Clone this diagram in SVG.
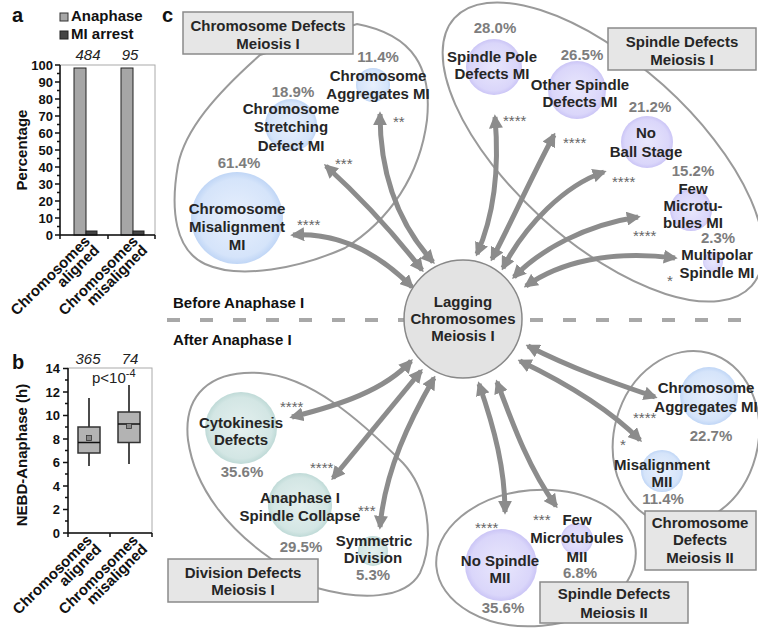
<svg xmlns="http://www.w3.org/2000/svg" width="758" height="631" viewBox="0 0 758 631">
<defs>
<style>
text{font-family:"Liberation Sans",Arial,sans-serif}
.L{font-size:20px;font-weight:bold;fill:#111}
.t{font-size:15px;font-weight:bold;fill:#262626;text-anchor:middle}
.p{font-size:15px;font-weight:bold;fill:#7d7d7d;text-anchor:middle}
.s{font-size:15px;fill:#666}
.k{font-size:13px;font-weight:bold;fill:#111;text-anchor:end}
.ax{font-size:15px;font-weight:bold;fill:#111}
.n{font-size:15px;font-style:italic;fill:#222;text-anchor:middle}
.box{fill:#e6e6e6;stroke:#8a8a8a;stroke-width:1.5}
.ell{fill:none;stroke:#9a9a9a;stroke-width:2}
.arr{fill:none;stroke:#8c8c8c;stroke-width:5;marker-start:url(#ah);marker-end:url(#ah)}
.fr{fill:none;stroke:#aaa;stroke-width:1}
.bl{stroke:#111;stroke-width:1.5;fill:none}
</style>
<marker id="ah" viewBox="0 0 10 10" refX="8" refY="5" markerWidth="2.8" markerHeight="2.8" orient="auto-start-reverse"><path d="M0,0 L10,5 L0,10 z" fill="#8c8c8c"/></marker>
<radialGradient id="gb"><stop offset="0" stop-color="#e8f0fd"/><stop offset="0.85" stop-color="#d5e4fa"/><stop offset="1" stop-color="#c0d6f6"/></radialGradient>
<radialGradient id="gp"><stop offset="0" stop-color="#e9e7fc"/><stop offset="0.85" stop-color="#dad6fa"/><stop offset="1" stop-color="#cbc5f6"/></radialGradient>
<radialGradient id="gg"><stop offset="0" stop-color="#e4f0ef"/><stop offset="0.85" stop-color="#d3e6e4"/><stop offset="1" stop-color="#bfdad7"/></radialGradient>
</defs>
<rect width="758" height="631" fill="#fff"/>

<!-- Panel a -->
<g id="panel-a">
<text class="L" x="12" y="22">a</text>
<rect x="60" y="13" width="8" height="8" fill="#a6a6a6" stroke="#333" stroke-width="1"/>
<text class="ax" x="71" y="21">Anaphase</text>
<rect x="60" y="31" width="8" height="8" fill="#444" stroke="#222" stroke-width="1"/>
<text class="ax" x="71" y="39">MI arrest</text>
<text class="n" x="88" y="60">484</text>
<text class="n" x="130" y="60">95</text>
<rect class="fr" x="60" y="65" width="95" height="170"/>
<rect x="74" y="68" width="12" height="167" fill="#a6a6a6" stroke="#222" stroke-width="1"/>
<rect x="86" y="231" width="11" height="4" fill="#444" stroke="#222" stroke-width="1"/>
<rect x="121" y="68" width="12" height="167" fill="#a6a6a6" stroke="#222" stroke-width="1"/>
<rect x="133" y="231" width="11" height="4" fill="#444" stroke="#222" stroke-width="1"/>
<path class="bl" d="M60,65 V235 H155 M60,235 v4 M108,235 v4 M155,235 v4"/>
<path class="bl" stroke-width="1" d="M55,65h5M55,82h5M55,99h5M55,116h5M55,133h5M55,150h5M55,167h5M55,184h5M55,201h5M55,218h5M55,235h5M57,73.5h3M57,90.5h3M57,107.5h3M57,124.5h3M57,141.5h3M57,158.5h3M57,175.5h3M57,192.5h3M57,209.5h3M57,226.5h3"/>
<text class="k" x="53" y="70">100</text>
<text class="k" x="53" y="87">90</text>
<text class="k" x="53" y="104">80</text>
<text class="k" x="53" y="121">70</text>
<text class="k" x="53" y="138">60</text>
<text class="k" x="53" y="155">50</text>
<text class="k" x="53" y="172">40</text>
<text class="k" x="53" y="189">30</text>
<text class="k" x="53" y="206">20</text>
<text class="k" x="53" y="223">10</text>
<text class="k" x="53" y="240">0</text>
<text class="ax" font-size="14" text-anchor="middle" transform="translate(27,150) rotate(-90)">Percentage</text>
<text class="ax" text-anchor="end" transform="translate(91,242) rotate(-45)"><tspan x="0" y="0">Chromosomes</tspan><tspan x="0" y="13">aligned</tspan></text>
<text class="ax" text-anchor="end" transform="translate(139,242) rotate(-45)"><tspan x="0" y="0">Chromosomes</tspan><tspan x="0" y="13">misaligned</tspan></text>
</g>

<!-- Panel b -->
<g id="panel-b">
<text class="L" x="12" y="369">b</text>
<text class="n" x="88" y="364">365</text>
<text class="n" x="130" y="364">74</text>
<rect class="fr" x="68" y="368" width="84" height="165"/>
<path class="bl" d="M68,368 V533 H152 M68,533 v4 M110,533 v4 M152,533 v4"/>
<path class="bl" stroke-width="1" d="M63,368.5h5M63,392h5M63,415.5h5M63,439h5M63,462.5h5M63,486h5M63,509.5h5M63,533h5M65,380h3M65,403.5h3M65,427h3M65,450.5h3M65,474h3M65,497.5h3M65,521h3"/>
<text class="k" x="60" y="373">14</text>
<text class="k" x="60" y="397">12</text>
<text class="k" x="60" y="420">10</text>
<text class="k" x="60" y="444">8</text>
<text class="k" x="60" y="467">6</text>
<text class="k" x="60" y="491">4</text>
<text class="k" x="60" y="514">2</text>
<text class="k" x="60" y="538">0</text>
<text x="92" y="383" font-size="15" fill="#222">p&lt;10<tspan font-size="11" dy="-6">-4</tspan></text>
<path class="bl" stroke-width="2" d="M89,398 V427 M89,453 V466 M129,385 V412 M129,442 V464"/>
<rect x="78" y="427" width="22" height="26" fill="#b3b3b3" stroke="#333" stroke-width="1.5"/>
<path class="bl" stroke-width="2" d="M78,442.5 H100"/>
<rect x="86.5" y="435.5" width="5" height="5" fill="#888" stroke="#333" stroke-width="0.8"/>
<rect x="118" y="412" width="22" height="30.5" fill="#b3b3b3" stroke="#333" stroke-width="1.5"/>
<path class="bl" stroke-width="2" d="M118,424 H140"/>
<rect x="126.5" y="423.5" width="5" height="5" fill="#888" stroke="#333" stroke-width="0.8"/>
<text class="ax" font-size="14" text-anchor="middle" transform="translate(27,455) rotate(-90)">NEBD-Anaphase (h)</text>
<text class="ax" text-anchor="end" transform="translate(93,541) rotate(-45)"><tspan x="0" y="0">Chromosomes</tspan><tspan x="0" y="13">aligned</tspan></text>
<text class="ax" text-anchor="end" transform="translate(139,541) rotate(-45)"><tspan x="0" y="0">Chromosomes</tspan><tspan x="0" y="13">misaligned</tspan></text>
</g>

<!-- Panel c -->
<text class="L" x="162" y="22">c</text>
<path id="divider" d="M167,320 H758" stroke="#a8a8a8" stroke-width="4" stroke-dasharray="13 20"/>
<text class="ax" x="173" y="308">Before Anaphase I</text>
<text class="ax" x="173" y="345">After Anaphase I</text>

<!-- group outlines -->
<g id="groups">
<path class="ell" d="M260,55 C215,95 185,130 178,165 C170,210 175,250 205,264 C240,280 300,268 345,248 C390,220 420,175 427,120 C432,70 415,35 357,24 Z"/>
<ellipse class="ell" cx="603" cy="152" rx="200" ry="90" transform="rotate(42 603 152)"/>
<path class="ell" d="M270,558 C230,530 195,490 188,440 C183,395 210,370 260,373 C310,376 360,420 403,463 C428,490 435,540 420,573 C405,600 360,600 317,588 Z"/>
<ellipse class="ell" cx="686" cy="438" rx="72" ry="88" transform="rotate(15 686 438)"/>
<ellipse class="ell" cx="536" cy="558" rx="100" ry="68" transform="rotate(-5 536 558)"/>
</g>

<!-- connectors -->
<g id="connectors">
<path class="arr" d="M380,114 C380,170 395,220 433,262"/>
<path class="arr" d="M326,166 C360,197 395,235 422,270"/>
<path class="arr" d="M293,235 C340,232 380,255 412,287"/>
<path class="arr" d="M495,117 C500,175 492,220 477,254"/>
<path class="arr" d="M554,135 C530,180 510,225 492,259"/>
<path class="arr" d="M604,172 C565,185 525,225 503,268"/>
<path class="arr" d="M638,217 C585,225 540,250 514,277"/>
<path class="arr" d="M675,258 C610,250 560,262 526,286"/>
<path class="arr" d="M292,417 C340,405 385,390 411,361"/>
<path class="arr" d="M333,478 L421,371"/>
<path class="arr" d="M380,527 C385,470 410,420 434,378"/>
<path class="arr" d="M528,346 C575,370 620,385 655,397"/>
<path class="arr" d="M520,361 C570,385 610,410 640,440"/>
<path class="arr" d="M479,384 C495,430 505,470 505,512"/>
<path class="arr" d="M497,382 C515,430 530,470 556,506"/>
</g>

<!-- central node -->
<g id="lagging">
<circle cx="463" cy="319" r="59" fill="#e3e3e3" stroke="#888" stroke-width="1.5"/>
<text class="t" x="463" y="307">Lagging</text>
<text class="t" x="463" y="324">Chromosomes</text>
<text class="t" x="463" y="341">Meiosis I</text>
</g>

<!-- Chromosome defects MI -->
<g id="box-chrom-mi"><rect class="box" x="183" y="12" width="170" height="42"/>
<text class="t" x="268" y="31">Chromosome Defects</text><text class="t" x="268" y="49">Meiosis I</text></g>
<g id="chrom-aggregates-mi"><circle cx="373" cy="85" r="17" fill="url(#gb)"/>
<text class="p" x="378" y="62">11.4%</text><text class="t" x="378" y="81">Chromosome</text><text class="t" x="378" y="99">Aggregates MI</text>
<text class="s" x="393" y="127">**</text></g>
<g id="chrom-stretching"><circle cx="291" cy="125" r="26" fill="url(#gb)"/>
<text class="p" x="293" y="97">18.9%</text><text class="t" x="291" y="114">Chromosome</text><text class="t" x="291" y="132">Stretching</text><text class="t" x="291" y="151">Defect MI</text>
<text class="s" x="335" y="169">***</text></g>
<g id="chrom-misalignment-mi"><circle cx="237" cy="218" r="46" fill="url(#gb)"/>
<text class="p" x="239" y="168">61.4%</text><text class="t" x="237" y="214">Chromosome</text><text class="t" x="237" y="232">Misalignment</text><text class="t" x="237" y="250">MI</text>
<text class="s" x="297" y="230">****</text></g>

<!-- Spindle defects MI -->
<g id="box-spindle-mi"><rect class="box" x="608" y="28" width="148" height="42"/>
<text class="t" x="682" y="47">Spindle Defects</text><text class="t" x="682" y="65">Meiosis I</text></g>
<g id="spindle-pole"><circle cx="494" cy="67" r="28" fill="url(#gp)"/>
<text class="p" x="495" y="33">28.0%</text><text class="t" x="492" y="62">Spindle Pole</text><text class="t" x="492" y="79">Defects MI</text>
<text class="s" x="503" y="126">****</text></g>
<g id="other-spindle"><circle cx="577" cy="90" r="29" fill="url(#gp)"/>
<text class="p" x="582" y="60">26.5%</text><text class="t" x="580" y="90">Other Spindle</text><text class="t" x="580" y="107">Defects MI</text>
<text class="s" x="563" y="148">****</text></g>
<g id="no-ball"><circle cx="647" cy="142" r="26" fill="url(#gp)"/>
<text class="p" x="650" y="112">21.2%</text><text class="t" x="646" y="138">No</text><text class="t" x="646" y="157">Ball Stage</text>
<text class="s" x="612" y="187">****</text></g>
<g id="few-mt-mi"><circle cx="691" cy="210" r="21" fill="url(#gp)"/>
<text class="p" x="693" y="176">15.2%</text><text class="t" x="693" y="194">Few</text><text class="t" x="693" y="211">Microtu-</text><text class="t" x="693" y="228">bules MI</text>
<text class="s" x="633" y="241">****</text></g>
<g id="multipolar"><circle cx="713" cy="262" r="10" fill="url(#gp)"/>
<text class="p" x="718" y="243">2.3%</text><text class="t" x="717" y="260">Multipolar</text><text class="t" x="717" y="278">Spindle MI</text>
<text class="s" x="667" y="286">*</text></g>

<!-- Division defects MI -->
<g id="box-division-mi"><rect class="box" x="168" y="559" width="150" height="43"/>
<text class="t" x="243" y="578">Division Defects</text><text class="t" x="243" y="595">Meiosis I</text></g>
<g id="cytokinesis"><circle cx="241" cy="428" r="36" fill="url(#gg)"/>
<text class="t" x="241" y="428">Cytokinesis</text><text class="t" x="241" y="445">Defects</text><text class="p" x="242" y="477">35.6%</text>
<text class="s" x="280" y="412">****</text></g>
<g id="anaphase-collapse"><circle cx="300" cy="505" r="32" fill="url(#gg)"/>
<text class="t" x="300" y="503">Anaphase I</text><text class="t" x="300" y="521">Spindle Collapse</text><text class="p" x="301" y="552">29.5%</text>
<text class="s" x="310" y="473">****</text></g>
<g id="symmetric"><circle cx="373" cy="551" r="15" fill="url(#gg)"/>
<text class="t" x="374" y="546">Symmetric</text><text class="t" x="373" y="563">Division</text><text class="p" x="373" y="580">5.3%</text>
<text class="s" x="358" y="516">***</text></g>

<!-- Chromosome defects MII -->
<g id="box-chrom-mii"><rect class="box" x="645" y="511" width="111" height="59"/>
<text class="t" x="700" y="528">Chromosome</text><text class="t" x="700" y="545">Defects</text><text class="t" x="700" y="563">Meiosis II</text></g>
<g id="chrom-aggregates-mii"><circle cx="709" cy="396" r="29" fill="url(#gb)"/>
<text class="t" x="706" y="393">Chromosome</text><text class="t" x="706" y="412">Aggregates MI</text><text class="p" x="711" y="441">22.7%</text>
<text class="s" x="633" y="423">****</text></g>
<g id="misalignment-mii"><circle cx="662" cy="471" r="21" fill="url(#gb)"/>
<text class="t" x="662" y="470">Misalignment</text><text class="t" x="662" y="487">MII</text><text class="p" x="663" y="504">11.4%</text>
<text class="s" x="620" y="450">*</text></g>

<!-- Spindle defects MII -->
<g id="box-spindle-mii"><rect class="box" x="540" y="582" width="148" height="41"/>
<text class="t" x="614" y="599">Spindle Defects</text><text class="t" x="614" y="618">Meiosis II</text></g>
<g id="no-spindle-mii"><circle cx="501" cy="565" r="36" fill="url(#gp)"/>
<text class="t" x="500" y="566">No Spindle</text><text class="t" x="500" y="583">MII</text><text class="p" x="503" y="613">35.6%</text>
<text class="s" x="475" y="533">****</text></g>
<g id="few-mt-mii"><circle cx="577" cy="539" r="16" fill="url(#gp)"/>
<text class="t" x="577" y="525">Few</text><text class="t" x="577" y="543">Microtubules</text><text class="t" x="577" y="562">MII</text><text class="p" x="580" y="578">6.8%</text>
<text class="s" x="533" y="525">***</text></g>
</svg>
